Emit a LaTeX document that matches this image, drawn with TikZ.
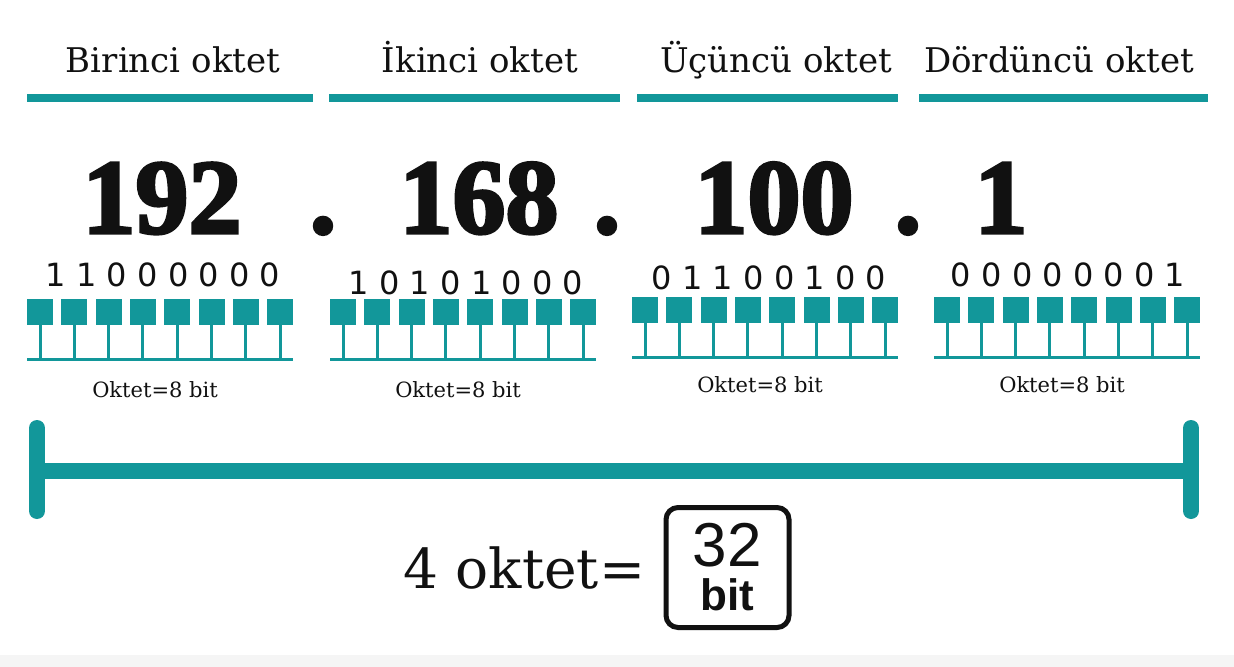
\documentclass[tikz,border=0pt]{standalone}
\usepackage{fontspec}
\setmainfont{DejaVu Serif}
\newfontfamily\bignumfont[FakeBold=3]{Liberation Serif Bold}
\newfontfamily\bitfont{DejaVu Sans}
\newfontfamily\boxfont{Liberation Sans}
\usetikzlibrary{positioning}
\definecolor{tealbar}{HTML}{12979A}
\definecolor{ink}{HTML}{111111}

\begin{document}
\begin{tikzpicture}[
    x=0.5pt, y=-0.5pt,
    every node/.style={inner sep=0pt, text=ink},
    head/.style={font=\fontsize{17}{20}\selectfont, anchor=base},
    bignum/.style={font=\bignumfont\fontsize{53}{60}\selectfont, anchor=base},
    bits/.style={font=\bitfont\fontsize{16}{18}\selectfont, anchor=base},
    octlabel/.style={font=\fontsize{10.5}{12}\selectfont, anchor=base},
    bar/.style={line width=4pt, draw=tealbar},
    stem/.style={line width=1.5pt, draw=tealbar},
    span/.style={line width=8pt, draw=tealbar, line cap=round},
    total/.style={rectangle, rounded corners=6pt, draw=ink, line width=2.5pt,
                  minimum width=61.5pt, minimum height=60pt}
  ]
    \useasboundingbox (0,0) rectangle (1234,667);
    \fill[black!4] (0,655) rectangle (1234,667);

    % headings and bars
    \node[head] (h1) at (173,73) {Birinci oktet};
    \node[head] (h2) at (480,73) {İkinci oktet};
    \node[head] (h3) at (776,73) {Üçüncü oktet};
    \node[head] (h4) at (1059,73) {Dördüncü oktet};
    \draw[bar] (27,98) -- (313,98);
    \draw[bar] (329,98) -- (620,98);
    \draw[bar] (637,98) -- (898,98);
    \draw[bar] (919,98) -- (1208,98);

    % address
    \node[bignum] (n1) at (162,233) {192};
    \node[bignum] (d1) at (323,233) {.};
    \node[bignum] (n2) at (479,233) {168};
    \node[bignum] (d2) at (607,233) {.};
    \node[bignum] (n3) at (774,233) {100};
    \node[bignum] (d3) at (908,233) {.};
    \node[bignum] (n4) at (1001,233) {1};

    % bits
    \node[bits] (b1) at (163,287) {1 1 0 0 0 0 0 0};
    \node[bits] (b2) at (466,295) {1 0 1 0 1 0 0 0};
    \node[bits] (b3) at (769,290) {0 1 1 0 0 1 0 0};
    \node[bits] (b4) at (1068,287) {0 0 0 0 0 0 0 1};
    \foreach \gx/\gy/\ly in {27/299/360, 330/299/360, 632/297/358, 934/297/358} {
      \foreach \i in {0,...,7} {
        \fill[tealbar] (\gx+\i*34.3,\gy) rectangle ++(26,26);
        \draw[stem] (\gx+13+\i*34.3,\gy+26) -- (\gx+13+\i*34.3,\ly);
      }
      \draw[stem] (\gx,\ly) -- (\gx+266,\ly);
    }
    \node[octlabel] (o1) at (155,397) {Oktet=8 bit};
    \node[octlabel] (o2) at (458,397) {Oktet=8 bit};
    \node[octlabel] (o3) at (760,393) {Oktet=8 bit};
    \node[octlabel] (o4) at (1062,393) {Oktet=8 bit};

    % span of all four octets
    \coordinate (sl) at (37,471);
    \coordinate (sr) at (1191,471);
    \draw[span] (37,428) -- (37,511);
    \draw[span] (1191,428) -- (1191,511);
    \draw[span] (sl) -- (sr);

    % total
    \node[font=\fontsize{27.5}{30}\selectfont, anchor=base west] (sum) at (403,588) {4 oktet=};
    \node[total] (box) at (727.5,567.5) {};
    \node[font=\boxfont\fontsize{31}{33}\selectfont, anchor=base] (boxnum) at (727,566) {32};
    \node[font=\boxfont\bfseries\fontsize{22}{24}\selectfont, anchor=base] (boxunit) at (727,610) {bit};
  \end{tikzpicture}
\end{document}
